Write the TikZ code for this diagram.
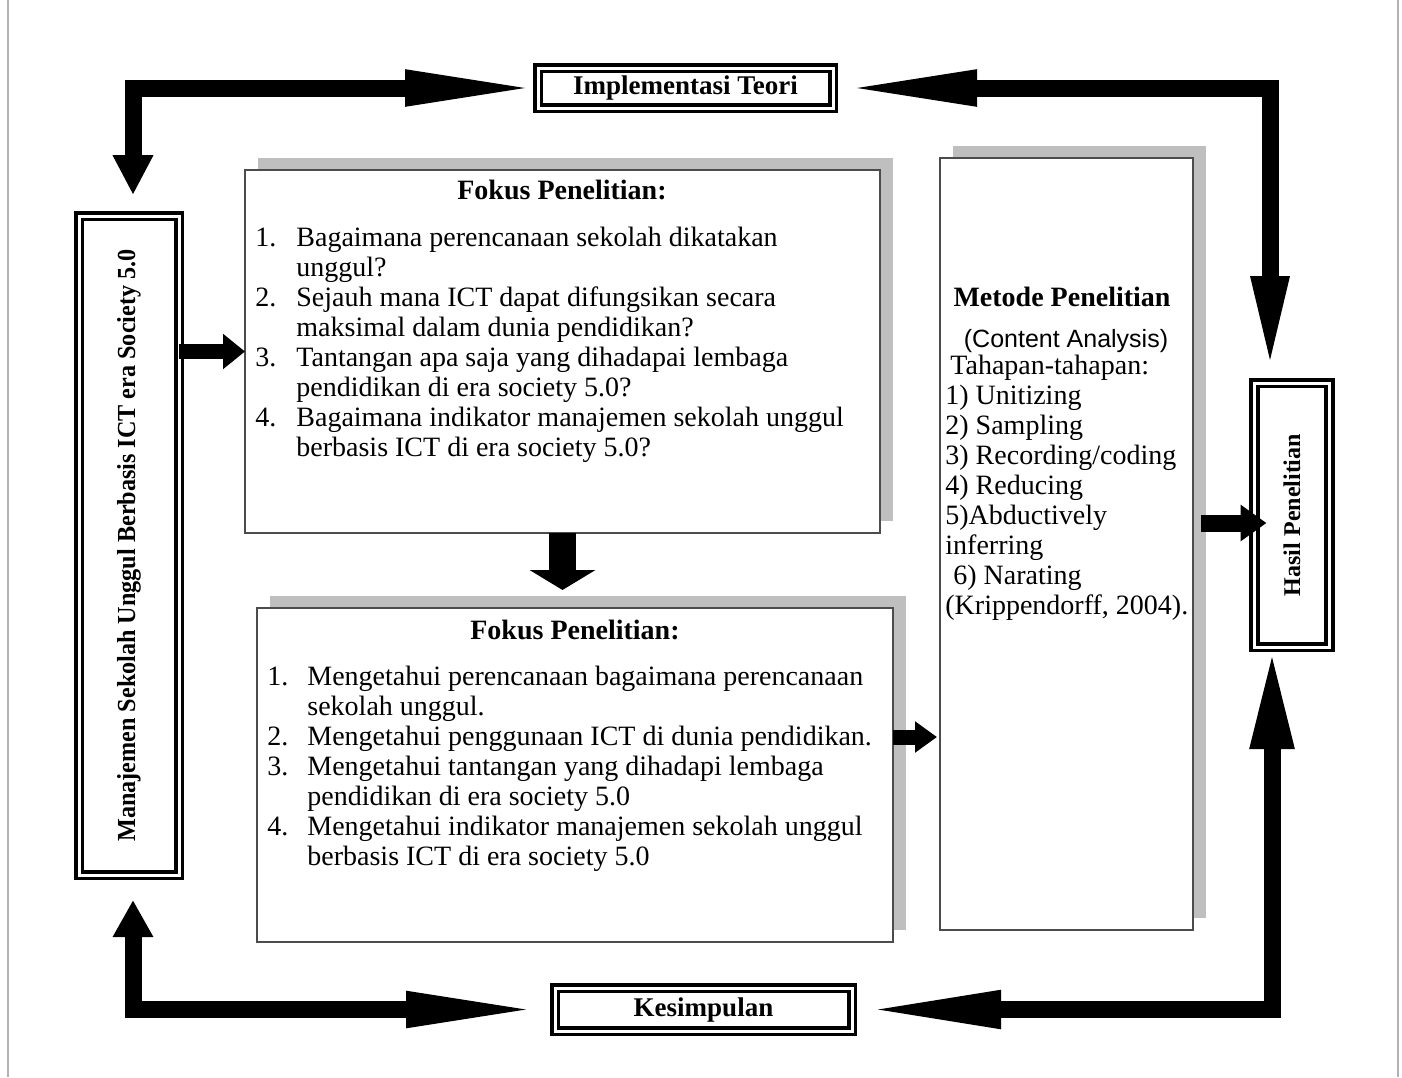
\documentclass[tikz,border=0pt]{standalone}
\usepackage{fontspec}
\setmainfont{Liberation Serif}
\setsansfont{Liberation Sans}
\usepackage{tikz}
\usetikzlibrary{arrows.meta,shadows}
\definecolor{shade}{gray}{0.75}
\definecolor{pageline}{gray}{0.7}
\definecolor{boxline}{gray}{0.3}
\newcommand{\bodyfont}{\fontsize{14}{15}\selectfont}

\begin{document}
\begin{tikzpicture}[x=0.5pt,y=-0.5pt,line join=miter,
        dblbox/.style={draw,double,line width=1.8pt,double distance=1.5pt,
            inner sep=0pt,outer sep=0pt,font=\bfseries\fontsize{13.5}{15}\selectfont},
        focusbox/.style={draw=boxline,line width=1pt,fill=white,inner sep=0pt,outer sep=0pt,
            drop shadow={shadow xshift=6.5pt,shadow yshift=6pt,fill=shade,opacity=1}},
        bigarrow/.style={line width=8.5pt},
        smallarrow/.style={line width=7.5pt}]
        % fix the page size
        \useasboundingbox (0,0) rectangle (1402,1077);
        \draw[pageline,line width=1pt] (8,0) -- (8,1077) (1398,0) -- (1398,1077);

        % the boxes with a double frame
        \node[dblbox,minimum width=147.5pt,minimum height=20pt] (impl) at (685.5,88) {Implementasi Teori};
        \node[dblbox,minimum width=148.5pt,minimum height=21.5pt] (kes) at (703.5,1009.5) {Kesimpulan};
        \node[dblbox,minimum width=50pt,minimum height=329.5pt,font=\bfseries\fontsize{13}{15}\selectfont]
            (mgmt) at (129,545.5) {\rotatebox{90}{\scalebox{0.93}[1]{Manajemen Sekolah Unggul Berbasis ICT era Society 5.0}}};
        \node[dblbox,minimum width=37.5pt,minimum height=132pt,font=\bfseries\fontsize{12}{14}\selectfont]
            (hasil) at (1292,515) {\rotatebox{90}{Hasil Penelitian}};

        % the boxes with a shadow
        \node[focusbox,minimum width=317.5pt,minimum height=181.5pt] (focus1) at (562.5,351.5) {};
        \node[focusbox,minimum width=318pt,minimum height=167pt] (focus2) at (575,775) {};
        \node[focusbox,minimum width=126.5pt,minimum height=386pt] (metode) at (1066.5,544) {};

        % the texts in the boxes
        \node[anchor=base,inner sep=0pt,font=\bfseries\bodyfont] (title1) at (562,199) {Fokus Penelitian:};
        \node[anchor=north west,inner sep=0pt,font=\bodyfont] (list1) at (255,225) {%
            \begin{tabular}{@{}p{20.5pt}@{}l@{}}
            1. & Bagaimana perencanaan sekolah dikatakan\\
               & unggul?\\
            2. & Sejauh mana ICT dapat difungsikan secara\\
               & maksimal dalam dunia pendidikan?\\
            3. & Tantangan apa saja yang dihadapai lembaga\\
               & pendidikan di era society 5.0?\\
            4. & Bagaimana indikator manajemen sekolah unggul\\
               & berbasis ICT di era society 5.0?
            \end{tabular}};
        \node[anchor=base,inner sep=0pt,font=\bfseries\bodyfont] (title2) at (575,639) {Fokus Penelitian:};
        \node[anchor=north west,inner sep=0pt,font=\bodyfont] (list2) at (267,664) {%
            \begin{tabular}{@{}p{20pt}@{}l@{}}
            1. & Mengetahui perencanaan bagaimana perencanaan\\
               & sekolah unggul.\\
            2. & Mengetahui penggunaan ICT di dunia pendidikan.\\
            3. & Mengetahui tantangan yang dihadapi lembaga\\
               & pendidikan di era society 5.0\\
            4. & Mengetahui indikator manajemen sekolah unggul\\
               & berbasis ICT di era society 5.0
            \end{tabular}};
        \node[anchor=base,inner sep=0pt,font=\bfseries\bodyfont] (title3) at (1062,306) {Metode Penelitian};
        \node[anchor=base,inner sep=0pt,font=\sffamily\fontsize{12.5}{15}\selectfont] (method) at (1066,347) {(Content Analysis)};
        \node[anchor=north west,inner sep=0pt,font=\bodyfont] (steps) at (945,353) {%
            \begin{tabular}{@{}l@{}}
            \hspace{2.5pt}Tahapan-tahapan:\\
            1) Unitizing\\
            2) Sampling\\
            3) Recording/coding\\
            4) Reducing\\
            5)Abductively\\
            inferring\\
            \hspace{4pt}6) Narating\\
            (Krippendorff, 2004).
            \end{tabular}};

        % the big arrows round the edge
        \draw[bigarrow,{Triangle[length=20pt,width=19pt]}-{Triangle[length=70pt,width=16pt]},
            shorten <=10.5pt,shorten >=-3.5pt] ([xshift=2pt]mgmt.north) |- (impl.west);
        \draw[bigarrow,{Triangle[length=48pt,width=17pt]}-{Triangle[length=70pt,width=16pt]},
            shorten <=5.5pt,shorten >=2pt] ([xshift=-11pt]hasil.north) |- (impl.east);
        \draw[bigarrow,{Triangle[length=18.5pt,width=19pt]}-{Triangle[length=70pt,width=16pt]},
            shorten <=12.5pt,shorten >=4.5pt] ([xshift=2pt]mgmt.south) |- (kes.west);
        \draw[bigarrow,{Triangle[length=50pt,width=20pt]}-{Triangle[length=70pt,width=17pt]},
            shorten <=1pt,shorten >=4.5pt] ([xshift=-10pt]hasil.south) |- (kes.east);

        % the small arrows between the boxes
        \draw[smallarrow,-{Triangle[length=11pt,width=17pt]}] (mgmt.east |- focus1.west) -- (focus1.west);
        \draw[line width=13.5pt,-{Triangle[length=10pt,width=32.5pt]},shorten >=9pt]
            (focus1.south) -- (focus1.south |- focus2.north);
        \draw[smallarrow,-{Triangle[length=11pt,width=15pt]},shorten >=1.5pt]
            ([yshift=19pt]focus2.east) -- ([yshift=19pt]focus2.east -| metode.west);
        \draw[bigarrow,-{Triangle[length=13pt,width=17.5pt]},shorten <=4pt,shorten >=-6pt]
            ([yshift=-4pt]hasil.west -| metode.east) -- ([yshift=-4pt]hasil.west);
\end{tikzpicture}
\end{document}
